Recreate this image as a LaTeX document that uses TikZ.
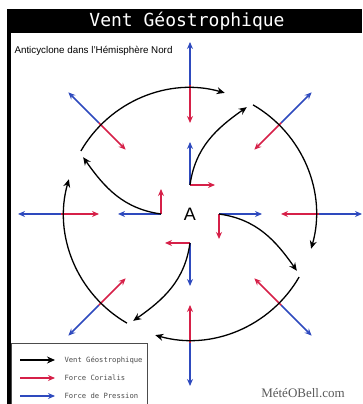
\documentclass[tikz,border=0pt]{standalone}
\usepackage{fontspec}
\setmainfont{Liberation Sans}
\setmonofont{DejaVu Sans Mono}
\newfontfamily\markfont{Liberation Serif}
\usetikzlibrary{arrows.meta}
\definecolor{coriolis}{RGB}{214,32,72}
\definecolor{pression}{RGB}{46,74,190}

\tikzset{
  vent/.style={-{Stealth[length=8pt,width=7pt]}, line width=1.3pt, black},
  fcor/.style={-{Stealth[length=7pt,width=6pt]}, line width=1.5pt, coriolis},
  fpres/.style={-{Stealth[length=7pt,width=6pt]}, line width=1.5pt, pression},
  legtxt/.style={anchor=west, font=\fontsize{7.2}{8}\selectfont\ttfamily, black!70},
}

\begin{document}
\begin{tikzpicture}[
    x=1pt, y=1pt  % 1 单位 = 1 像素
]
    \useasboundingbox (0,0) rectangle (362,404);

    % 标题栏
    \fill[black] (7,371) rectangle (362,395);
    \node[text=white, font=\fontsize{18}{20}\selectfont\ttfamily] (titre) at (187,383) {Vent Géostrophique};
    \fill[black] (7,0) rectangle (11,371); % 左边框
    \node[anchor=base west, font=\fontsize{9.8}{11}\selectfont] (soustitre) at (11,350) {Anticyclone dans l'Hémisphère Nord};

    \begin{scope}[shift={(190,190)}]
        \node[font=\fontsize{18}{20}\selectfont] (A) at (0,0) {A};

        % 1. 外圈：压力 (蓝) 向外，科氏力 (红) 向内
        \foreach \a in {0,45,...,315} {
            \coordinate (o\a) at (\a:129);
            \coordinate (p\a) at (\a:172);
            \coordinate (c\a) at (\a:91);
            \draw[fpres] (o\a) -- (p\a);
            \draw[fcor] (o\a) -- (c\a);
        }

        % 2. 内圈：压力向外，科氏力向右 (顺时针)
        \foreach \a in {0,90,180,270} {
            \pgfmathsetmacro{\b}{\a-90}
            \pgfmathsetmacro{\e}{\a-28}
            \pgfmathsetmacro{\dout}{\a-8}
            \pgfmathsetmacro{\din}{\a+125}
            \coordinate (k\a) at (\a:29);
            \coordinate (kp\a) at (\a:72);
            \coordinate (kc\a) at ([shift={(\b:25)}]k\a);
            \coordinate (ke\a) at (\e:121);
            \draw[fpres] (k\a) -- (kp\a);
            \draw[fcor] (k\a) -- (kc\a);
            \draw[vent] (k\a) to[out=\dout, in=\din] (ke\a); % 地转风
        }

        % 3. 外圈地转风 (顺时针圆弧)
        \foreach \k in {0,1,2,3} {
            \pgfmathsetmacro{\s}{150-90*\k}
            \pgfmathsetmacro{\f}{74-90*\k}
            \coordinate (w\k) at (\s:126);
            \draw[vent] (w\k) arc[start angle=\s, end angle=\f, radius=126];
        }
    \end{scope}

    % 图例
    \draw[black!70, line width=0.8pt] (11,-2) rectangle (147,61);
    \foreach \y/\sty/\txt in {44/vent/Vent Géostrophique, 26/fcor/Force Corialis, 8/fpres/Force de Pression} {
        \coordinate (l\y) at (20,\y);
        \coordinate (r\y) at (55,\y);
        \draw[\sty] (l\y) -- (r\y);
        \node[legtxt] (t\y) at (61,\y) {\txt};
    }

    \node[font=\markfont\fontsize{13}{15}\selectfont, black!65] (marque) at (303,11) {MétéOBell.com};
\end{tikzpicture}
\end{document}
